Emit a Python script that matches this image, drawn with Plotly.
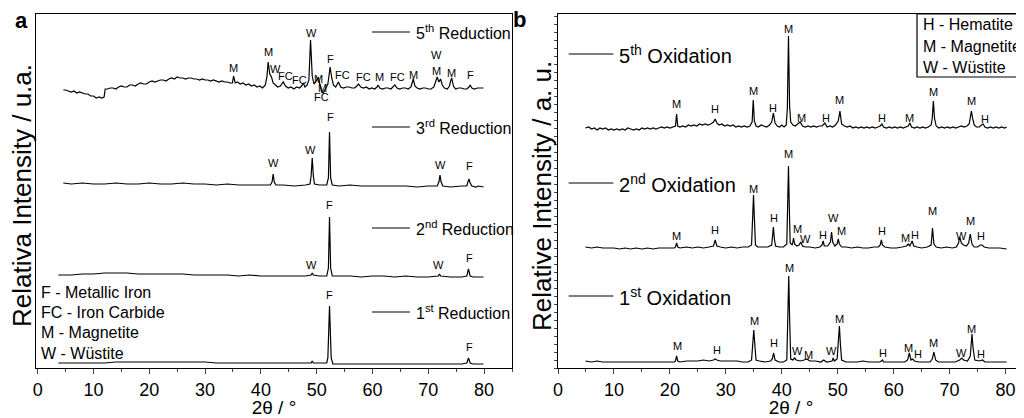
import plotly.graph_objects as go

# ---- panel a : reduction patterns (intensity already stacked with offset) ----
red5_x = [4.6, 5.0, 5.5, 6.0, 6.5, 7.0, 7.5, 8.0, 8.5, 9.0, 9.5, 10.0, 10.5, 11.0, 11.5, 11.9, 12.1, 12.5, 13.0, 13.5,
          14.0, 14.5, 15.0, 15.5, 16.0, 16.5, 17.0, 17.5, 18.0, 18.5, 19.0, 19.5, 20.0, 20.5, 21.0, 21.5, 22.0, 22.5,
          23.0, 23.5, 24.0, 24.5, 25.0, 25.5, 26.0, 26.5, 27.0, 27.5, 28.0, 28.5, 29.0, 29.5, 30.0, 30.5, 31.0, 31.5,
          32.0, 32.5, 33.0, 33.5, 34.0, 34.5, 34.9, 35.1, 35.4, 35.8, 36.3, 36.8, 37.3, 37.8, 38.3, 38.8, 39.3, 39.8,
          40.3, 40.8, 41.1, 41.3, 41.6, 41.9, 42.2, 42.6, 43.0, 43.5, 44.0, 44.4, 44.9, 45.4, 45.9, 46.4, 46.9, 47.3,
          47.6, 47.9, 48.3, 48.6, 48.9, 49.2, 49.5, 49.8, 50.1, 50.3, 50.6, 50.9, 51.2, 51.6, 52.0, 52.2, 52.4, 52.7,
          53.0, 53.4, 53.9, 54.3, 54.8, 55.3, 55.8, 56.3, 56.8, 57.2, 57.5, 57.9, 58.4, 58.9, 59.4, 59.9, 60.4, 60.8,
          61.0, 61.3, 61.8, 62.3, 62.8, 63.3, 63.7, 64.0, 64.4, 64.9, 65.4, 65.9, 66.4, 66.9, 67.1, 67.3, 67.6, 68.0,
          68.5, 69.0, 69.5, 70.0, 70.5, 71.0, 71.3, 71.6, 71.9, 72.2, 72.5, 72.9, 73.4, 73.8, 74.0, 74.2, 74.5, 74.9,
          75.4, 75.9, 76.4, 76.9, 77.3, 77.5, 77.8, 78.3, 78.8, 79.3, 79.9]
red5_y = [278, 278, 277, 276, 277, 275, 276, 275, 274, 274, 272, 272, 270, 271, 270, 271,
          279, 279, 280, 280, 279, 281, 282, 281, 281, 283, 283, 282, 284, 285, 284, 284, 286, 287, 286, 287,
          288, 288, 287, 289, 290, 289, 291, 290, 290, 289, 290, 290, 289, 289, 288, 289, 288, 288, 287, 288,
          287, 286, 287, 286, 286, 285, 285, 292, 285, 286, 284, 285, 283, 284, 282, 283, 281, 282,
          280, 283, 292, 306, 294, 291, 285, 283, 281, 282, 286, 282, 280, 281, 279, 281, 280, 282,
          285, 281, 283, 288, 328, 292, 284, 286, 290, 291, 283, 276, 275, 279, 284, 292, 301, 290,
          283, 281, 286, 281, 280, 281, 281, 280, 280, 282, 284, 281, 280, 281, 279, 280, 279, 281,
          283, 280, 279, 280, 280, 279, 281, 283, 280, 279, 280, 280, 279, 281, 285, 289, 282, 280,
          279, 280, 280, 279, 279, 281, 286, 291, 286, 289, 283, 280, 279, 282, 287, 290, 282, 279,
          280, 280, 279, 279, 281, 283, 280, 279, 280, 280, 280]

red3_x = [4.6, 6, 8, 10, 12, 14, 16, 18, 20, 22, 24, 26, 28, 30, 32, 34, 36, 38, 40, 41.7, 42.0, 42.2, 42.4, 42.7,
          44, 46, 48, 48.8, 49.0, 49.2, 49.4, 49.6, 50.5, 51.8, 52.1, 52.3, 52.5, 52.8, 54, 56, 58, 60, 62, 64,
          66, 68, 70, 71.6, 71.9, 72.1, 72.3, 72.6, 74, 76, 76.9, 77.1, 77.3, 77.5, 77.8, 78.5, 79, 79.9]
red3_y = [185, 184, 185, 184, 184, 185, 184, 184, 185, 184, 184, 185, 184, 184, 183, 184, 183, 183, 183, 183, 186,
          194, 186, 183, 183, 182, 183, 184, 192, 210, 192, 184, 183, 183, 190, 236, 190, 183, 182, 183, 182,
          182, 182, 182, 182, 181, 182, 182, 186, 193, 186, 182, 181, 182, 182, 186, 189, 185, 182, 181, 182, 181]

red2_x = [3.7, 6, 8, 10, 12, 14, 16, 18, 20, 22, 24, 26, 28, 30, 32, 34, 36, 38, 40, 42, 44, 46, 48, 49.0, 49.2,
          49.4, 50.5, 51.8, 52.1, 52.3, 52.5, 52.8, 54, 56, 58, 60, 62, 64, 66, 68, 70, 71.8, 72.0, 72.2, 74, 76,
          76.9, 77.2, 77.5, 78, 79.9]
red2_y = [93, 93, 94, 94, 95, 95, 95, 94, 94, 94, 94, 94, 93, 93, 93, 93, 92, 93, 92, 92, 92, 92, 92, 93, 95,
          93, 92, 92, 100, 151, 100, 92, 92, 92, 91, 92, 92, 91, 92, 91, 91, 92, 94, 92, 91, 91,
          92, 99, 92, 91, 91]

red1_x = [3.7, 6, 8, 10, 12, 14, 16, 18, 20, 22, 24, 26, 28, 30, 32, 34, 36, 38, 40, 42, 44, 46, 48, 49.0, 49.2,
          49.4, 51.8, 52.0, 52.3, 52.6, 52.9, 54, 56, 58, 60, 62, 64, 66, 68, 70, 72, 74, 76, 76.9, 77.2, 77.5,
          78, 79.9]
red1_y = [5, 5, 5, 5, 5, 6, 6, 6, 6, 6, 6, 6, 6, 6, 5, 5, 5, 5, 5, 5, 5, 5, 5, 5, 7,
          5, 5, 10, 62, 10, 4, 4, 4, 4, 4, 4, 4, 4, 4, 4, 4, 4, 4, 5, 10, 5,
          4, 4]

red_names = ["5<sup>th</sup> Reduction", "3<sup>rd</sup> Reduction", "2<sup>nd</sup> Reduction",
             "1<sup>st</sup> Reduction"]

red5_lbl = [(35.1, 300, "M"), (41.3, 316, "M"), (42.6, 299, "W"), (44.4, 292, "FC"), (46.9, 288, "FC"),
            (49.0, 335, "W"), (50.3, 289, "M"), (51.0, 280, "M"), (50.8, 271, "FC"), (52.4, 309, "F"),
            (54.6, 293, "FC"), (58.3, 291, "FC"), (61.2, 291, "M"), (64.4, 291, "FC"), (67.3, 293, "M"),
            (71.4, 313, "W"), (71.5, 297, "M"), (74.2, 295, "M"), (77.5, 293, "F")]
red3_lbl = [(42.2, 205, "W"), (48.9, 218, "W"), (52.4, 251, "F"), (72.1, 203, "W"), (77.3, 202, "F")]
red2_lbl = [(49.0, 103, "W"), (52.3, 163, "F"), (71.8, 103, "W"), (77.3, 110, "F")]
red1_lbl = [(52.3, 73, "F"), (77.3, 21, "F")]
key_a = ["F - Metallic Iron", "FC - Iron Carbide", "M - Magnetite", "W - Wüstite"]

# ---- panel b : oxidation patterns ----
ox5_x = [4.9, 5.5, 6, 6.5, 7, 7.5, 8, 8.5, 9, 9.5, 10, 10.5, 11, 11.5, 12, 12.5, 13, 13.5, 14, 14.5, 15, 15.5, 16,
         16.5, 17, 17.5, 18, 18.5, 19, 19.5, 20, 20.5, 21.0, 21.2, 21.4, 21.8, 22.3, 22.8, 23.3, 23.8, 24.3, 24.8,
         25.3, 25.8, 26.3, 26.8, 27.3, 27.8, 28.1, 28.4, 28.8, 29.3, 29.8, 30.3, 30.8, 31.3, 31.8, 32.3, 32.8,
         33.3, 33.8, 34.3, 34.7, 34.9, 35.1, 35.4, 35.8, 36.3, 36.8, 37.3, 37.8, 38.2, 38.5, 38.8, 39.2, 39.6,
         40.0, 40.4, 40.8, 41.0, 41.2, 41.4, 41.6, 42.0, 42.4, 42.8, 43.3, 43.7, 44.2, 44.7, 45.2, 45.7, 46.2,
         46.7, 47.2, 47.7, 48.1, 48.6, 49.1, 49.6, 50.1, 50.4, 50.7, 51.2, 51.7, 52.2, 52.7, 53.2, 53.7, 54.2,
         54.7, 55.2, 55.7, 56.2, 56.7, 57.2, 57.6, 57.9, 58.2, 58.7, 59.2, 59.7, 60.2, 60.7, 61.2, 61.7, 62.2,
         62.6, 62.9, 63.2, 63.7, 64.2, 64.7, 65.2, 65.7, 66.2, 66.7, 66.9, 67.1, 67.3, 67.6, 68.1, 68.6, 69.1,
         69.6, 70.1, 70.6, 71.1, 71.6, 72.1, 72.6, 73.1, 73.5, 73.7, 73.9, 74.1, 74.4, 74.8, 75.3, 75.7, 76.0,
         76.3, 76.8, 77.3, 77.8, 78.3, 78.8, 79.3, 79.8, 80.2]
ox5_y = [240, 241, 239, 240, 238, 240, 239, 240, 238, 239, 238, 239, 238, 239, 238, 240, 239, 238, 239, 238, 240,
         239, 240, 239, 240, 239, 240, 241, 240, 241, 240, 241, 242, 254, 242, 241, 242, 241, 243, 242, 243,
         242, 244, 243, 244, 243, 244, 246, 249, 245, 243, 244, 242, 243, 242, 243, 241, 242, 241, 242, 241,
         242, 246, 268, 247, 242, 241, 243, 242, 241, 243, 246, 255, 245, 242, 241, 243, 241, 243, 260, 332,
         262, 246, 243, 242, 244, 246, 242, 241, 242, 241, 242, 241, 242, 242, 245, 241, 242, 241, 243, 247,
         257, 244, 242, 241, 242, 240, 241, 240, 241, 240, 241, 240, 241, 240, 241, 242, 244, 241, 240, 241,
         240, 241, 240, 241, 240, 241, 242, 245, 241, 240, 241, 240, 241, 240, 241, 243, 250, 267, 250, 242,
         240, 241, 240, 241, 240, 241, 240, 241, 242, 241, 242, 244, 250, 257, 250, 243, 241, 241, 243, 244,
         241, 240, 241, 240, 241, 240, 241, 240, 241]

ox2_x = [4.9, 6, 7, 8, 9, 10, 11, 12, 13, 14, 15, 16, 17, 18, 19, 20, 20.8, 21.0, 21.2, 21.4, 21.8, 23, 24, 25, 26,
         27, 27.8, 28.1, 28.4, 29, 30, 31, 32, 33, 34, 34.6, 34.8, 34.95, 35.1, 35.3, 35.7, 36.5, 37.5, 38.2,
         38.4, 38.5, 38.7, 38.9, 39.5, 40.3, 40.9, 41.1, 41.2, 41.35, 41.5, 41.9, 42.1, 42.3, 42.7, 43.1, 43.4,
         43.7, 44.3, 45, 46, 46.8, 47.2, 47.4, 47.6, 48.2, 48.7, 48.9, 49.1, 49.5, 49.9, 50.1, 50.3, 50.7, 51.5,
         52.5, 53.5, 54.5, 55.5, 56.5, 57.3, 57.6, 57.8, 58.0, 58.4, 59.5, 60.5, 61.5, 62.3, 62.6, 62.9, 63.3,
         63.6, 64.2, 65, 66, 66.7, 66.95, 67.2, 67.6, 68.5, 69.5, 70.5, 71.2, 71.6, 71.8, 72.1, 72.5, 73.0,
         73.4, 73.7, 74.0, 74.4, 75.0, 75.5, 75.8, 76.2, 77, 78, 79, 80.2]
ox2_y = [121, 120, 121, 120, 120, 120, 119, 120, 119, 120, 119, 120, 119, 120, 120, 120, 120, 121, 125, 121, 120,
         121, 120, 121, 120, 121, 122, 128, 122, 121, 120, 121, 120, 121, 121, 123, 150, 173, 150, 123, 121,
         121, 121, 123, 135, 141, 128, 122, 121, 121, 124, 160, 202, 160, 125, 123, 130, 124, 122, 123, 126,
         122, 121, 121, 120, 121, 123, 127, 122, 122, 126, 136, 126, 122, 124, 129, 124, 121, 121,
         120, 121, 120, 120, 121, 121, 123, 128, 123, 121, 120, 120, 121, 122, 124, 122, 127,
         122, 121, 120, 121, 123, 140, 124, 121, 120, 121, 120, 121, 125, 131, 125, 123, 122,
         125, 134, 124, 121, 121, 123, 123, 121, 120, 120, 120, 119]

ox1_x = [4.9, 6, 7, 8, 9, 10, 11, 12, 13, 14, 15, 16, 17, 18, 19, 20, 20.8, 21.0, 21.2, 21.4, 21.8, 23, 24, 25, 26,
         27, 27.8, 28.1, 28.4, 29, 30, 31, 32, 33, 34, 34.6, 34.8, 35.0, 35.2, 35.4, 36, 37, 38, 38.3, 38.55,
         38.8, 39.5, 40.3, 40.9, 41.1, 41.25, 41.4, 41.6, 42.0, 42.3, 42.6, 43.3, 44.0, 44.5, 45, 46, 47, 47.5,
         48, 49.0, 49.2, 49.4, 49.9, 50.1, 50.3, 50.5, 50.7, 51.5, 52.5, 53.5, 54.5, 55.5, 56.5, 57.5, 57.8,
         58.0, 58.2, 59, 60, 61, 62, 62.5, 62.8, 63.1, 63.4, 63.7, 64.5, 65.5, 66.5, 66.9, 67.2, 67.5, 68, 69,
         70, 71, 71.8, 72.2, 72.5, 73.2, 73.7, 74.0, 74.2, 74.5, 75.3, 75.9, 76.3, 77, 78, 79, 80.2]
ox1_y = [7, 6, 7, 6, 6, 6, 6, 6, 6, 6, 6, 6, 6, 6, 6, 6, 6, 7, 12, 7, 6, 7, 7, 7, 8,
         7, 8, 9, 8, 7, 7, 7, 7, 6, 6, 8, 22, 38, 22, 8, 7, 6, 7, 9, 15,
         8, 6, 6, 8, 50, 92, 50, 9, 8, 10, 8, 7, 8, 9, 7, 7, 6, 8,
         6, 7, 10, 7, 9, 25, 42, 22, 8, 6, 6, 6, 7, 6, 6, 6, 7,
         8, 6, 6, 6, 6, 6, 8, 15, 8, 9, 7, 6, 6, 6, 9, 16, 8, 6, 6,
         6, 6, 8, 10, 8, 7, 12, 34, 20, 8, 7, 8, 6, 6, 6, 6, 6]

ox_names = ["5<sup>th</sup> Oxidation", "2<sup>nd</sup> Oxidation", "1<sup>st</sup> Oxidation"]

ox5_lbl = [(21.25, 264, "M"), (28.1, 259, "H"), (34.9, 277, "M"), (38.5, 260, "H"), (41.2, 339, "M"),
           (43.6, 250, "M"), (47.9, 250, "H"), (50.4, 268, "M"), (57.9, 250, "H"), (62.9, 250, "M"),
           (67.1, 276, "M"), (73.9, 267, "M"), (76.3, 249, "H")]
ox2_lbl = [(21.2, 132, "M"), (28.1, 138, "H"), (34.9, 179, "M"), (38.6, 150, "H"), (41.2, 214, "M"),
           (42.9, 139, "M"), (44.2, 129, "W"), (47.4, 133, "H"), (49.2, 150, "W"), (50.7, 137, "M"),
           (57.9, 137, "H"), (62.2, 130, "M"), (63.8, 133, "H"), (67.0, 157, "M"), (72.1, 132, "W"),
           (73.8, 147, "M"), (75.7, 132, "H")]
ox1_lbl = [(21.4, 22, "M"), (28.4, 18, "H"), (35.1, 47, "M"), (38.6, 25, "H"), (41.4, 100, "M"),
           (42.9, 17, "W"), (44.8, 13, "M"), (48.9, 17, "W"), (50.4, 49, "M"), (58.1, 15, "H"),
           (62.6, 20, "M"), (64.4, 14, "H"), (67.1, 25, "M"), (72.1, 15, "W"), (73.9, 39, "M"),
           (75.7, 14, "H")]
key_b = ["H - Hematite", "M - Magnetite", "W - Wüstite"]

FONT = "Liberation Sans, Arial, sans-serif"
OFF = 8                      # page body margin of the html page
W, H = 1024 - OFF, 418 - OFF
TOP, BOT = 14, 368           # plot area in window pixels
SPAN = BOT - TOP

def px(xw):
    return (xw - OFF) / W

def py(yw):
    return (BOT - yw) / SPAN

fig = go.Figure()
annos = []
shapes = []

def add_pattern(xs, ys, labels, xa, ya):
    fig.add_trace(go.Scatter(x=xs, y=ys, mode="lines", xaxis=xa, yaxis=ya,
                             line=dict(color="black", width=1.2), showlegend=False, hoverinfo="skip"))
    for lx, ly, t in labels:
        annos.append(dict(x=lx, y=ly, xref=xa, yref=ya, text=t, showarrow=False,
                          font=dict(size=11, color="black", family=FONT)))

add_pattern(red5_x, red5_y, red5_lbl, "x", "y")
add_pattern(red3_x, red3_y, red3_lbl, "x", "y")
add_pattern(red2_x, red2_y, red2_lbl, "x", "y")
add_pattern(red1_x, red1_y, red1_lbl, "x", "y")
add_pattern(ox5_x, ox5_y, ox5_lbl, "x2", "y2")
add_pattern(ox2_x, ox2_y, ox2_lbl, "x2", "y2")
add_pattern(ox1_x, ox1_y, ox1_lbl, "x2", "y2")

# series name tags with a short line
for name, yy in zip(red_names, [336, 241, 140, 56]):
    shapes.append(dict(type="line", xref="x", yref="y", x0=59.9, x1=66.7, y0=yy, y1=yy,
                       line=dict(color="black", width=1.2)))
    annos.append(dict(x=67.5, y=yy, xref="x", yref="y", text=name, showarrow=False, xanchor="left",
                      yanchor="middle", font=dict(size=16, color="black", family=FONT)))
for name, yy in zip(ox_names, [314, 185, 72]):
    shapes.append(dict(type="line", xref="x2", yref="y2", x0=1.9, x1=9.9, y0=yy, y1=yy,
                       line=dict(color="black", width=1.2)))
    annos.append(dict(x=10.6, y=yy, xref="x2", yref="y2", text=name, showarrow=False, xanchor="left",
                      yanchor="middle", font=dict(size=20, color="black", family=FONT)))

# phase keys
for t, yy in zip(key_a, [76, 56, 36, 15]):
    annos.append(dict(x=0.3, y=yy, xref="x", yref="y", text=t, showarrow=False, xanchor="left",
                      yanchor="middle", font=dict(size=16, color="black", family=FONT)))
shapes.append(dict(type="rect", xref="paper", yref="paper", x0=px(917), x1=1.05,
                   y0=py(77), y1=1, line=dict(color="black", width=1.2)))
for t, yy in zip(key_b, [25, 46, 67]):
    annos.append(dict(x=px(921), y=py(yy), xref="paper", yref="paper", text=t, showarrow=False,
                      xanchor="left", yanchor="middle", font=dict(size=16, color="black", family=FONT)))

# panel letters
annos.append(dict(x=px(21), y=py(21), xref="paper", yref="paper", text="<b>a</b>", showarrow=False,
                  xanchor="center", yanchor="middle", font=dict(size=22, color="black", family=FONT)))
annos.append(dict(x=px(519), y=py(20), xref="paper", yref="paper", text="<b>b</b>", showarrow=False,
                  xanchor="center", yanchor="middle", font=dict(size=22, color="black", family=FONT)))

# y titles placed as rotated text
annos.append(dict(x=px(22), y=py(196), xref="paper", yref="paper", text="Relativa Intensity / u.a.",
                  textangle=-90, showarrow=False, xanchor="center", yanchor="middle",
                  font=dict(size=26, color="black", family=FONT)))
annos.append(dict(x=px(542), y=py(196), xref="paper", yref="paper", text="Relative Intensity / a. u.",
                  textangle=-90, showarrow=False, xanchor="center", yanchor="middle",
                  font=dict(size=26, color="black", family=FONT)))

xcommon = dict(tickvals=list(range(0, 81, 10)), ticks="outside", ticklen=5, tickwidth=1.2,
               minor=dict(dtick=5, ticks="outside", ticklen=3, tickwidth=1.2, tick0=0),
               showline=True, linecolor="black", linewidth=1.3, showgrid=False, zeroline=False,
               tickfont=dict(size=18, color="black", family=FONT),
               title=dict(text="2θ / °", font=dict(size=19, color="black", family=FONT), standoff=1),
               automargin=False)
ycommon = dict(range=[0, SPAN], showticklabels=False, showline=True, linecolor="black", linewidth=1.3,
               showgrid=False, zeroline=False, automargin=False)

fig.update_layout(
    width=W, height=H,
    margin=dict(l=0, r=0, t=TOP - OFF, b=H - (BOT - OFF)),
    plot_bgcolor="white", paper_bgcolor="white",
    font=dict(family=FONT, color="black"),
    xaxis=dict(domain=[px(36), px(512)], range=[-0.3, 85.0], mirror=True, anchor="y", **xcommon),
    yaxis=dict(domain=[0, 1], anchor="x", mirror=True, ticks="", **ycommon),
    xaxis2=dict(domain=[px(558), 1], range=[0, 83.3], mirror=True, anchor="y2", **xcommon),
    yaxis2=dict(domain=[0, 1], anchor="x2", mirror=False, ticks="outside", ticklen=3, tickwidth=1,
                dtick=8, tick0=0, **ycommon),
    annotations=annos,
    shapes=shapes,
)

fig.write_html("out.html")
